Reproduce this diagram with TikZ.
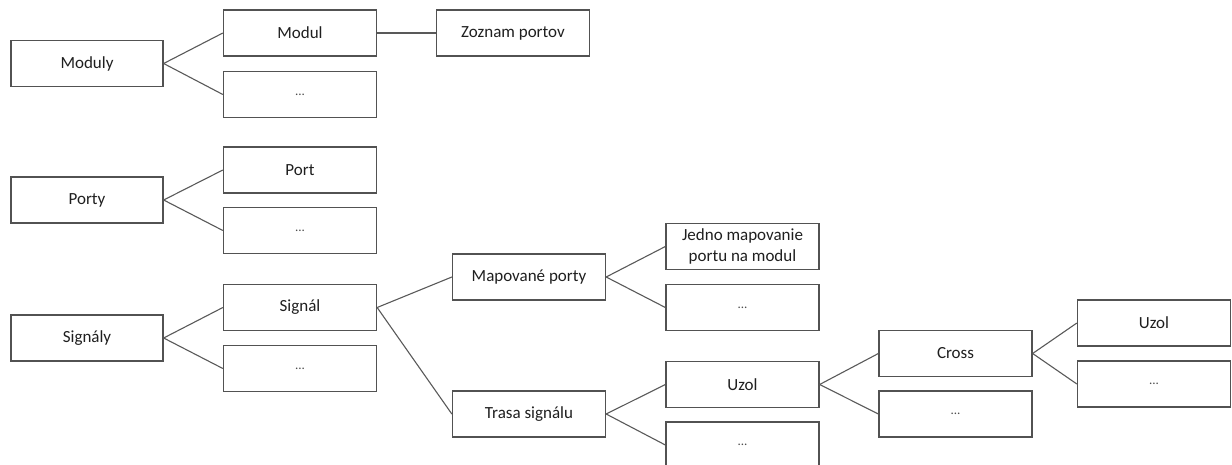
\documentclass[tikz,border=0pt]{standalone}
\usepackage{fontspec}
\setmainfont{Carlito}
\begin{document}
\begin{tikzpicture}[x=1pt,y=-1pt,
  box/.style={draw=black!68,line width=1.3pt,fill=white,minimum width=153pt,minimum height=46pt,inner sep=0pt,
    font=\fontsize{17}{21}\selectfont,text=black!88,align=center},
  dots/.style={box,font=\fontsize{13}{15}\selectfont,text=black!70},
  link/.style={draw=black!65,line width=1.1pt}]
\useasboundingbox (0,0) rectangle (1232,464);
% level 0
\node[box,minimum width=152pt] (moduly) at (87,63.5) {Moduly};
\node[box,minimum width=152pt] (porty) at (87,200) {Porty};
\node[box,minimum width=152pt] (signaly) at (87,338) {Signály};
% level 1
\node[box] (modul) at (300,33) {Modul};
\node[dots] (d1) at (300,94.5) {...};
\node[box] (zoznam) at (513,33) {Zoznam portov};
\node[box] (port) at (300,170) {Port};
\node[dots] (d2) at (300,230.5) {...};
\node[box] (signal) at (300,307.5) {Signál};
\node[dots] (d3) at (300,368.5) {...};
% level 2
\node[box] (mapovane) at (529,277) {Mapované porty};
\node[box] (trasa) at (529,414) {Trasa signálu};
% level 3
\node[box] (jedno) at (742.5,246.5) {Jedno mapovanie\\portu na modul};
\node[dots] (d4) at (742.5,307.5) {...};
\node[box] (uzol) at (742.5,384.5) {Uzol};
\node[dots] (d5) at (742.5,445) {...};
% level 4
\node[box] (cross) at (955.5,353.5) {Cross};
\node[dots] (d6) at (955.5,414) {...};
% level 5
\node[box] (uzolr) at (1154,323) {Uzol};
\node[dots] (d7) at (1154,384) {...};
% connectors
\draw[link] (moduly.east) -- (modul.west);
\draw[link] (moduly.east) -- (d1.west);
\draw[link] (modul.east) -- (zoznam.west);
\draw[link] (porty.east) -- (port.west);
\draw[link] (porty.east) -- (d2.west);
\draw[link] (signaly.east) -- (signal.west);
\draw[link] (signaly.east) -- (d3.west);
\draw[link] (signal.east) -- (mapovane.west);
\draw[link] (signal.east) -- (trasa.west);
\draw[link] (mapovane.east) -- (jedno.west);
\draw[link] (mapovane.east) -- (d4.west);
\draw[link] (trasa.east) -- (uzol.west);
\draw[link] (trasa.east) -- (d5.west);
\draw[link] (uzol.east) -- (cross.west);
\draw[link] (uzol.east) -- (d6.west);
\draw[link] (cross.east) -- (uzolr.west);
\draw[link] (cross.east) -- (d7.west);
\end{tikzpicture}
\end{document}
